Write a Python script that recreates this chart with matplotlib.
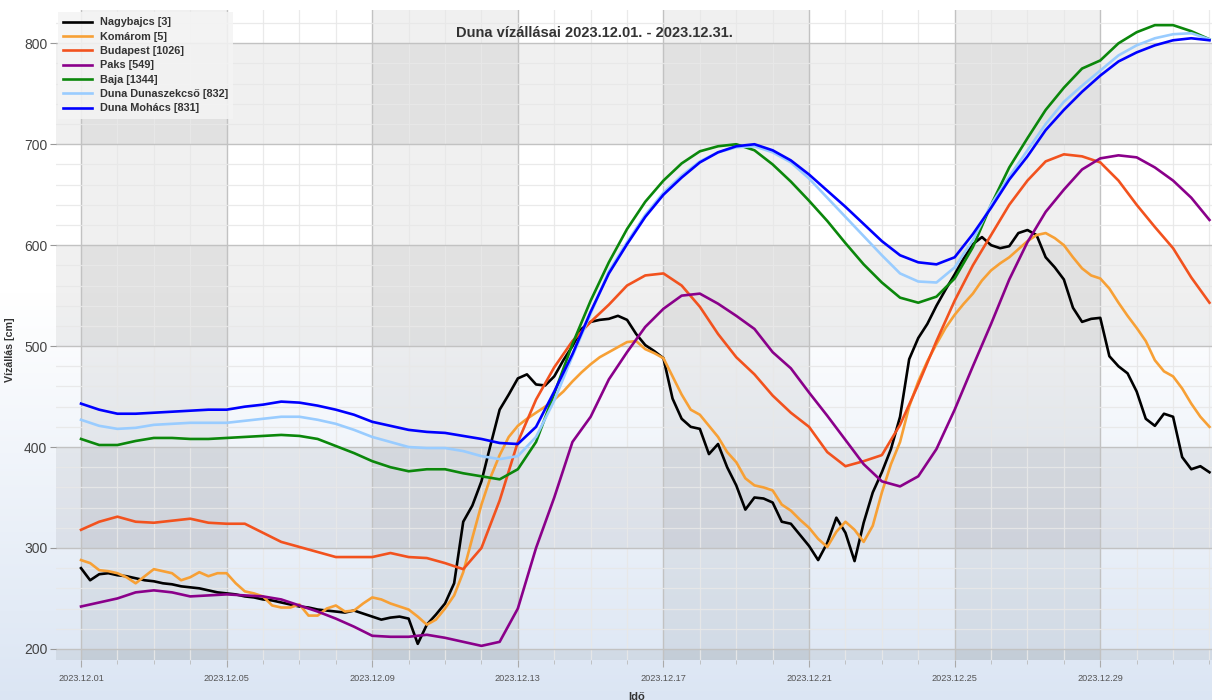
import matplotlib.pyplot as plt
import matplotlib.dates as mdates
import numpy as np

plt.rcParams['font.family'] = ['Liberation Sans', 'DejaVu Sans']

# Duna vízállások, 2023.12.01. - 2023.12.31. (cm)
# Nagybajcs és Komárom 6 óránként, a többi állomás 12 óránként
t6 = np.arange(np.datetime64('2023-12-01T00:00'), np.datetime64('2024-01-01T00:01'),
               np.timedelta64(6, 'h'))
t12 = np.arange(np.datetime64('2023-12-01T00:00'), np.datetime64('2024-01-01T00:01'),
                np.timedelta64(12, 'h'))

nagybajcs = [280, 268, 274, 275, 273, 272, 270, 268, 267, 265, 264, 262,
             261, 260, 258, 256, 255, 254, 252, 251, 249, 248, 246, 244,
             242, 241, 239, 238, 237, 236, 238, 235, 232, 229, 231, 232,
             230, 205, 224, 234, 245, 265, 326, 342, 366, 402, 437, 452,
             468, 472, 462, 461, 470, 486, 500, 517, 524, 526, 527, 530,
             526, 512, 501, 495, 488, 448, 428, 420, 418, 393, 403, 380,
             362, 338, 350, 349, 345, 326, 324, 313, 302, 288, 305, 330,
             315, 287, 325, 355, 375, 398, 430, 487, 508, 522, 540, 556,
             571, 587, 601, 608, 600, 597, 599, 612, 615, 610, 588, 578,
             566, 538, 524, 527, 528, 490, 480, 473, 455, 428, 421, 433,
             430, 390, 378, 381, 375]
komarom = [288, 285, 278, 277, 275, 271, 265, 272, 279, 277, 275, 268,
           271, 276, 272, 275, 275, 265, 257, 255, 252, 243, 241, 241,
           244, 233, 233, 240, 243, 237, 238, 245, 251, 249, 245, 242,
           239, 232, 224, 229, 240, 253, 276, 310, 343, 370, 392, 410,
           421, 428, 434, 440, 447, 455, 465, 474, 482, 489, 494, 499,
           504, 505, 497, 493, 488, 470, 452, 437, 432, 421, 410, 395,
           385, 369, 362, 360, 357, 343, 337, 328, 320, 309, 301, 316,
           326, 318, 306, 322, 355, 383, 405, 440, 465, 485, 502, 518,
           531, 542, 552, 565, 575, 582, 588, 596, 604, 610, 612, 607,
           600, 588, 577, 570, 567, 557, 543, 530, 518, 505, 486, 475,
           470, 458, 443, 430, 420]
budapest = [318, 326, 331, 326, 325, 327, 329, 325, 324, 324, 315, 306,
            301, 296, 291, 291, 291, 295, 291, 290, 285, 279, 300, 347,
            405, 447, 479, 505, 524, 541, 560, 570, 572, 560, 539, 512,
            489, 472, 451, 434, 420, 395, 381, 386, 392, 422, 462, 505,
            545, 580, 610, 640, 664, 683, 690, 688, 682, 664, 640, 618,
            597, 568, 543]
paks = [242, 246, 250, 256, 258, 256, 252, 253, 254, 253, 252, 249,
        243, 237, 230, 222, 213, 212, 212, 214, 211, 207, 203, 207,
        240, 300, 350, 405, 430, 467, 494, 519, 537, 550, 552, 542,
        530, 517, 494, 478, 454, 431, 407, 383, 366, 361, 371, 398,
        437, 480, 522, 566, 603, 633, 655, 675, 686, 689, 687, 677,
        664, 647, 625]
baja = [408, 402, 402, 406, 409, 409, 408, 408, 409, 410, 411, 412,
        411, 408, 401, 394, 386, 380, 376, 378, 378, 374, 371, 368,
        378, 405, 453, 502, 545, 583, 616, 643, 664, 681, 693, 698,
        700, 694, 680, 663, 644, 624, 602, 581, 563, 548, 543, 549,
        567, 598, 640, 677, 706, 734, 756, 775, 783, 800, 811, 818,
        818, 812, 804]
dunaszekcso = [427, 421, 418, 419, 422, 423, 424, 424, 424, 426, 428, 430,
               430, 427, 423, 417, 410, 405, 400, 399, 399, 396, 391, 388,
               391, 410, 446, 490, 532, 574, 603, 630, 652, 669, 683, 692,
               697, 698, 692, 682, 666, 647, 628, 609, 590, 572, 564, 563,
               578, 605, 640, 668, 694, 720, 742, 758, 773, 788, 798, 805,
               809, 810, 804]
mohacs = [443, 437, 433, 433, 434, 435, 436, 437, 437, 440, 442, 445,
          444, 441, 437, 432, 425, 421, 417, 415, 414, 411, 408, 404,
          403, 420, 455, 492, 534, 572, 601, 628, 650, 667, 682, 692,
          698, 700, 694, 684, 670, 654, 638, 621, 604, 590, 583, 581,
          588, 611, 637, 665, 688, 714, 734, 752, 768, 782, 791, 798,
          803, 805, 803]

# 4 napos címkék a tengelyen
tick_days = ['2023-12-01', '2023-12-05', '2023-12-09', '2023-12-13',
             '2023-12-17', '2023-12-21', '2023-12-25', '2023-12-29']

series = [
    ('Nagybajcs [3]', t6, nagybajcs, '#000000'),
    ('Komárom [5]', t6, komarom, '#f7a035'),
    ('Budapest [1026]', t12, budapest, '#f2521e'),
    ('Paks [549]', t12, paks, '#8a008a'),
    ('Baja [1344]', t12, baja, '#0b870b'),
    ('Duna Dunaszekcső [832]', t12, dunaszekcso, '#99ccff'),
    ('Duna Mohács [831]', t12, mohacs, '#0000ff'),
]

fig = plt.figure(figsize=(12.12, 7.0), dpi=100)

# háttér: fehérből halványkékbe
bg = fig.add_axes([0, 0, 1, 1], zorder=-1)
f = np.linspace(0, 1, 300)
w = np.clip((f - 0.42) / 0.58, 0, 1)
top = np.array([1.0, 1.0, 1.0])
bottom = np.array([0.86, 0.90, 0.955])
grad = top[None, :] * (1 - w[:, None]) + bottom[None, :] * w[:, None]
bg.imshow(grad[:, None, :], aspect='auto', extent=[0, 1, 0, 1])
bg.axis('off')

ax = fig.add_axes([56 / 1212, 40 / 700, 1156 / 1212, 650 / 700])
ax.patch.set_alpha(0)

# sakktábla-szerű sávok
tick_dates = [np.datetime64(d) for d in tick_days]
for s in tick_dates[::2]:
    ax.axvspan(s, s + np.timedelta64(4, 'D'), color='k', alpha=0.06, lw=0, zorder=0.2)
for lo in [100, 300, 500, 700]:
    ax.axhspan(lo, lo + 100, color='k', alpha=0.06, lw=0, zorder=0.2)

for name, t, v, c in series:
    ax.plot(t, v, color=c, lw=1.9, label=name, zorder=2)

ax.set_xlim(t6[0] - np.timedelta64(990, 'm'), t6[-1] + np.timedelta64(100, 'm'))
ax.set_ylim(189, 833)

ax.set_xticks(tick_dates)
ax.xaxis.set_minor_locator(mdates.DayLocator())
ax.xaxis.set_major_formatter(mdates.DateFormatter('%Y.%m.%d'))
ax.yaxis.set_major_locator(plt.MultipleLocator(100))
ax.yaxis.set_minor_locator(plt.MultipleLocator(20))

ax.set_axisbelow(True)
ax.grid(which='minor', color='#e8e8e8', lw=0.9, alpha=0.9)
ax.grid(which='major', color='#c2c2c2', lw=1.0)

for sp in ax.spines.values():
    sp.set_visible(False)

ax.tick_params(axis='y', which='major', length=4.3, color='#999999', labelsize=10,
               labelcolor='#444444', pad=2)
ax.tick_params(axis='y', which='minor', length=0)
ax.tick_params(axis='x', which='major', length=5, color='#aaaaaa', labelsize=6.6,
               labelcolor='#555555', pad=5)
ax.tick_params(axis='x', which='minor', length=3, color='#bbbbbb')

ax.set_ylabel('Vízállás [cm]', fontsize=7.7, fontweight='bold', color='#333333')
ax.yaxis.set_label_coords(-0.0355, 0.478)
ax.set_xlabel('Idő', fontsize=8, fontweight='bold', color='#333333')
ax.xaxis.set_label_coords(0.5026, -0.049)

ax.text(0.466, 0.965, 'Duna vízállásai 2023.12.01. - 2023.12.31.',
        transform=ax.transAxes, ha='center', va='center',
        fontsize=10.5, fontweight='bold', color='#333333')

leg = ax.legend(loc='upper left', bbox_to_anchor=(0.0017, 0.997), borderaxespad=0,
                prop={'weight': 'bold', 'size': 7.8}, handlelength=2.6,
                handletextpad=0.75, labelspacing=0.4, borderpad=0.5,
                fancybox=False, frameon=True)
leg.get_frame().set_facecolor('#f4f4f4')
leg.get_frame().set_edgecolor('none')
leg.get_frame().set_alpha(0.85)
for txt in leg.get_texts():
    txt.set_color('#333333')

fig.savefig('out.png', dpi=100)
